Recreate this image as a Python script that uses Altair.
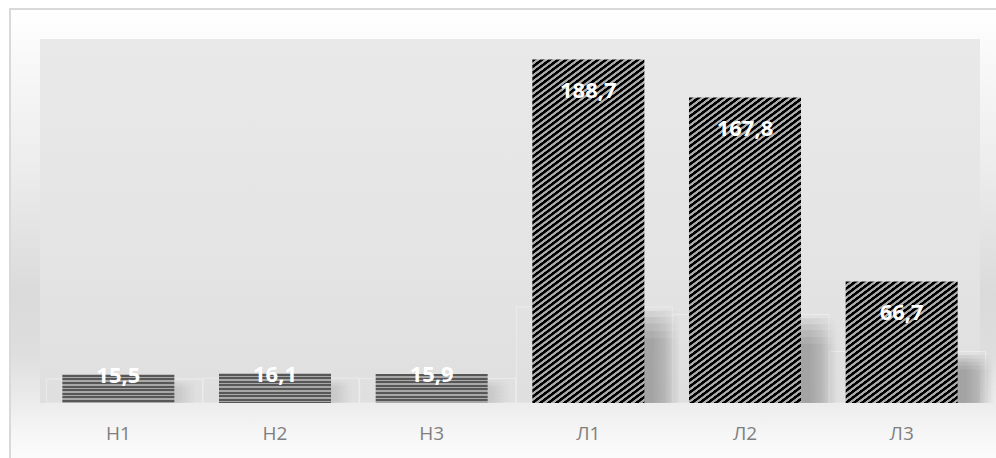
import math
import altair as alt
import pandas as pd

# Chart data
categories = ["Н1", "Н2", "Н3", "Л1", "Л2", "Л3"]
values = [15.5, 16.1, 15.9, 188.7, 167.8, 66.7]

# Geometry of the plot area
W, H = 940, 364
Y_MAX = 200
BAND_PAD = 0.285
BAR_W = W / len(categories) * (1 - BAND_PAD)

df = pd.DataFrame({"cat": categories, "v": values})
one = pd.DataFrame({"k": [0]})

FONT = "Open Sans"


def px_height(v):
    return v / Y_MAX * H


def hstripe_fill(h, period=3.6, dark="#575757", light="#a8a8a8"):
    """Vertical gradient with hard stops that reads as horizontal stripes."""
    stops = []
    n = int(math.ceil(h / period))
    for i in range(n):
        a = min(1.0, i * period / h)
        m = min(1.0, (i + 0.55) * period / h)
        b = min(1.0, (i + 1) * period / h)
        stops += [
            {"offset": a, "color": dark},
            {"offset": m, "color": dark},
            {"offset": m, "color": light},
            {"offset": b, "color": light},
        ]
    return {"gradient": "linear", "x1": 0, "y1": 0, "x2": 0, "y2": 1, "stops": stops}


def diag_fill(w, h, s=0.75, period=4.8, dark="#000000", light="#acacac", mid="#555555"):
    """Linear gradient in bounding-box units whose iso-lines run as '/' stripes."""
    c = (s / h + 1 / w) / ((s / h) ** 2 + (1 / w) ** 2)
    x2, y2 = c * s / h, c / w
    D = (s * w + h) / math.sqrt(1 + s * s)
    step = period / D
    stops = []
    n = int(math.ceil(1 / step))
    for i in range(n):
        t0 = i * step
        pts = [
            (0.0, dark), (0.44, dark), (0.5, mid), (0.56, light),
            (0.92, light), (0.97, mid),
        ]
        for f, col in pts:
            stops.append({"offset": min(1.0, t0 + f * step), "color": col})
    return {"gradient": "linear", "x1": 0, "y1": 0, "x2": x2, "y2": y2, "stops": stops}


SH_SHIFT = 36  # how far the shadow box sits to the right of its bar
edge = (BAR_W - SH_SHIFT) / BAR_W


def shadow_fill(alpha):
    return {
        "gradient": "linear", "x1": 0, "y1": 0, "x2": 1, "y2": 0,
        "stops": [
            {"offset": 0.0, "color": f"rgba(115,115,115,{alpha})"},
            {"offset": edge + 0.07, "color": f"rgba(115,115,115,{alpha})"},
            {"offset": edge + 0.18, "color": f"rgba(125,125,125,{alpha * 0.7})"},
            {"offset": 1.0, "color": "rgba(150,150,150,0)"},
        ],
    }


x_scale = alt.Scale(domain=categories, paddingInner=BAND_PAD, paddingOuter=BAND_PAD / 2)
y_scale = alt.Scale(domain=[0, Y_MAX], nice=False)
x_axis = alt.Axis(
    title=None, labelAngle=0, domain=False, ticks=False, grid=False, zindex=1,
    labelColor="#7f7f7f", labelFont=FONT, labelFontSize=19, labelPadding=21,
)
x_enc = alt.X("cat:N", sort=categories, scale=x_scale, axis=x_axis)
y_enc = alt.Y("v:Q", scale=y_scale, axis=None)

# Canvas backdrop with the light frame
backdrop = alt.Chart(one).mark_rect(
    stroke="#d9d9d9", strokeWidth=2,
    fill={
        "gradient": "linear", "x1": 0, "y1": 0, "x2": 0, "y2": 1,
        "stops": [
            {"offset": 0.0, "color": "#ffffff"},
            {"offset": 0.1, "color": "#f9f9f9"},
            {"offset": 0.35, "color": "#ececec"},
            {"offset": 0.62, "color": "#dadada"},
            {"offset": 0.75, "color": "#dedede"},
            {"offset": 0.87, "color": "#eeeeee"},
            {"offset": 0.93, "color": "#f7f7f7"},
            {"offset": 1.0, "color": "#fdfdfd"},
        ],
    },
).encode(x=alt.value(-30), x2=alt.value(980), y=alt.value(-30), y2=alt.value(430))

# Plot-area panel
panel = alt.Chart(one).mark_rect(
    fill={
        "gradient": "linear", "x1": 0, "y1": 0, "x2": 0, "y2": 1,
        "stops": [
            {"offset": 0.0, "color": "#e9e9e9"},
            {"offset": 0.6, "color": "#e4e4e4"},
            {"offset": 1.0, "color": "#dfdfdf"},
        ],
    },
).encode(x=alt.value(0), x2=alt.value(W), y=alt.value(0), y2=alt.value(H))

# Faint outline boxes around the foot of each bar
floor_boxes = alt.Chart(df).transform_calculate(
    fb="min(0.85 * datum.v, 0.2 * datum.v + 15)"
).mark_bar(
    xOffset=6, width=BAR_W + 44, fill="transparent",
    stroke="#efefef", strokeWidth=1, strokeOpacity=0.8,
).encode(x=x_enc, y=alt.Y("fb:Q", scale=y_scale, axis=None))

# Soft shadows to the right of each bar: a stack of translucent boxes of
# slightly different heights gives a blurred upper edge.
shadows = []
for f in [0.7, 0.78, 0.86, 0.93, 1.0]:
    shadows.append(
        alt.Chart(df).transform_filter("datum.v >= 40").transform_calculate(
            sh=f"({f}) * (0.2 * datum.v + 13)"
        ).mark_bar(xOffset=SH_SHIFT, fill=shadow_fill(0.15))
        .encode(x=x_enc, y=alt.Y("sh:Q", scale=y_scale, axis=None))
    )
    shadows.append(
        alt.Chart(df).transform_filter("datum.v < 40").transform_calculate(
            sh=f"({f}) * 0.8 * datum.v"
        ).mark_bar(xOffset=SH_SHIFT - 14, fill=shadow_fill(0.06))
        .encode(x=x_enc, y=alt.Y("sh:Q", scale=y_scale, axis=None))
    )

# Bars, each with its own stripe fill
bars = []
for c, v in zip(categories, values):
    h = px_height(v)
    fill = hstripe_fill(h) if c.startswith("Н") else diag_fill(BAR_W, h)
    bars.append(
        alt.Chart(df).transform_filter(alt.datum.cat == c)
        .mark_bar(fill=fill).encode(x=x_enc, y=y_enc)
    )

label_text = "replace(format(datum.v, '.1f'), '.', ',')"
text_style = dict(color="white", font=FONT, fontWeight="bold", fontSize=22,
                  baseline="alphabetic", align="center")
labels_tall = alt.Chart(df).transform_filter("datum.v >= 40").transform_calculate(
    lbl=label_text
).mark_text(dy=38, **text_style).encode(x=x_enc, y=y_enc, text="lbl:N")
labels_short = alt.Chart(df).transform_filter("datum.v < 40").transform_calculate(
    lbl=label_text
).mark_text(dy=8, **text_style).encode(x=x_enc, y=y_enc, text="lbl:N")

chart = alt.layer(
    backdrop, panel, floor_boxes, *shadows, *bars, labels_tall, labels_short
).properties(
    width=W, height=H,
    padding={"left": 40, "top": 39, "right": 16, "bottom": 55},
    autosize=alt.AutoSizeParams(type="none"),
    background="white",
).configure_view(stroke=None)

chart.save("out.html", embed_options={"renderer": "svg", "actions": False})
